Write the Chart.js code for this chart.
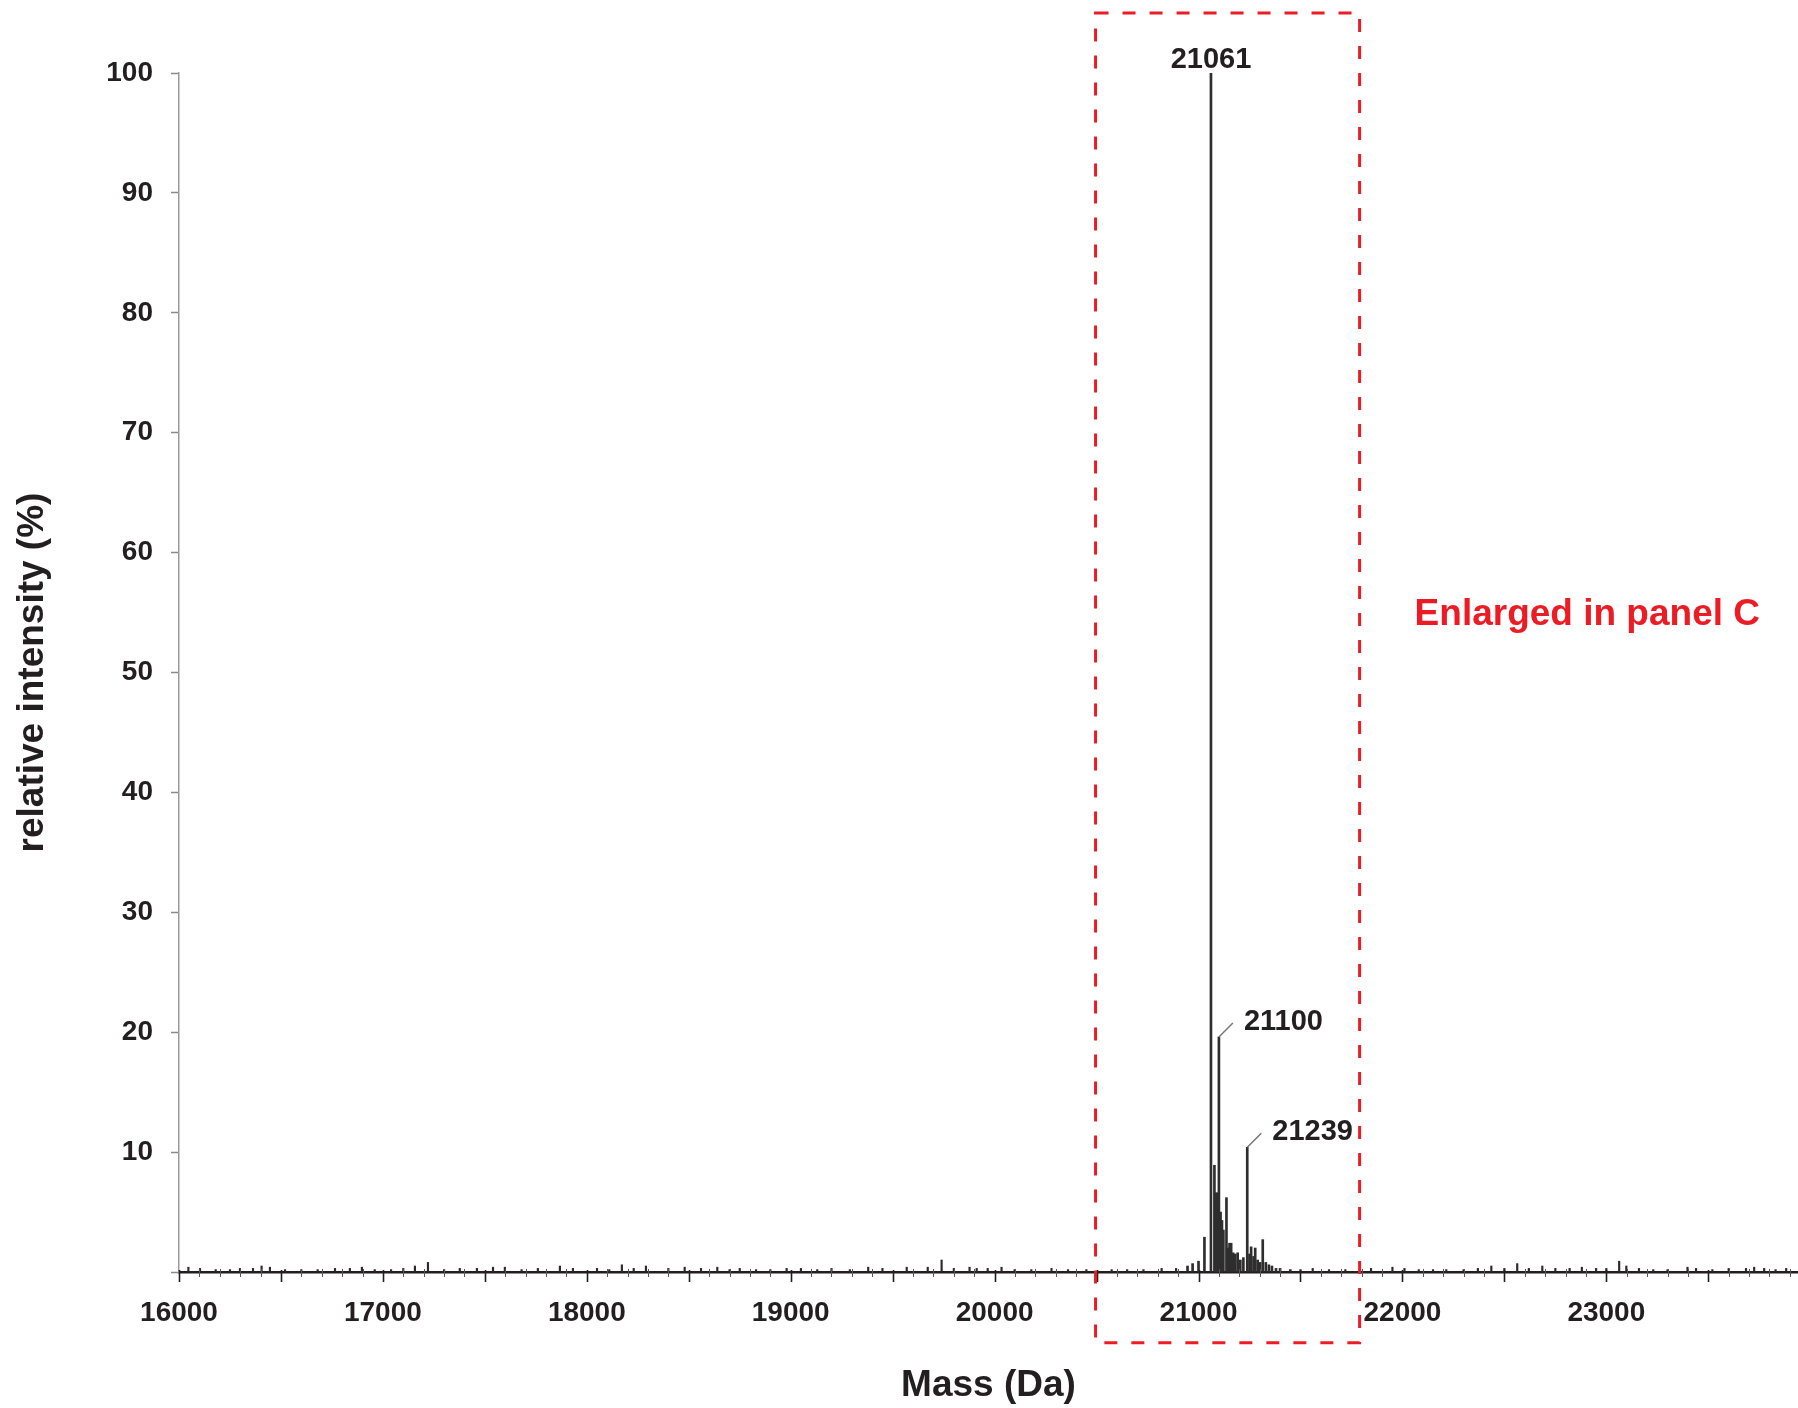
<!DOCTYPE html>
<html>
<head>
<meta charset="utf-8">
<script src="https://cdn.jsdelivr.net/npm/chart.js@4.4.1/dist/chart.umd.min.js"></script>
<style>
  html, body { margin: 0; padding: 0; background: #fff; }
  #wrap { position: relative; width: 1798px; height: 1408px; }
</style>
</head>
<body>
<div id="wrap"><canvas id="ms-chart"></canvas></div>
<script>
const FONT = "'Liberation Sans', Arial, Helvetica, sans-serif";
const INK = '#231f20';
const RED = '#ed1c24';

// main cluster of the deconvoluted spectrum (Da, % intensity)
const peakMass   = [20946, 20971, 21000, 21029, 21061, 21078, 21085, 21090, 21095, 21100,
                    21108, 21115, 21122, 21137, 21145, 21152, 21160, 21170, 21180, 21192,
                    21205, 21220, 21239, 21250, 21258, 21270, 21278, 21290, 21302, 21315,
                    21330, 21345, 21360, 21380, 21400, 21450];
const peakHeight = [0.5, 0.7, 0.9, 2.9, 100, 8.9, 6.6, 6.6, 6.0, 19.6,
                    5.0, 4.3, 3.5, 6.2, 2.0, 2.4, 2.4, 1.6, 1.5, 1.6,
                    1.0, 1.2, 10.4, 1.5, 2.1, 1.3, 2.0, 1.0, 0.8, 2.7,
                    0.8, 0.6, 0.5, 0.3, 0.3, 0.2];

// baseline noise spikes
const noiseMass   = [16046, 16103, 16180, 16250, 16299, 16363, 16405, 16446, 16520, 16600,
                     16680, 16765, 16838, 16897, 16960, 17040, 17100, 17157, 17221, 17300,
                     17377, 17461, 17540, 17598, 17680, 17760, 17868, 17932, 18050, 18110,
                     18172, 18230, 18290, 18400, 18480, 18560, 18640, 18700, 18750, 18830,
                     18900, 18980, 19050, 19130, 19200, 19290, 19380, 19450, 19569, 19672,
                     19740, 19800, 19877, 19912, 19966, 20034, 20098, 20180, 20279, 20360,
                     20450, 20574, 20650, 20730, 20819, 20890, 21500, 21560, 21640, 21720,
                     21846, 21951, 22010, 22080, 22150, 22215, 22300, 22370, 22436, 22500,
                     22563, 22620, 22686, 22750, 22820, 22880, 22950, 23000, 23063, 23098,
                     23160, 23230, 23300, 23398, 23440, 23520, 23600, 23685, 23725, 23774,
                     23830, 23882];
const noiseHeight = [0.4, 0.3, 0.2, 0.2, 0.3, 0.3, 0.5, 0.4, 0.2, 0.2,
                     0.2, 0.3, 0.3, 0.4, 0.2, 0.2, 0.3, 0.5, 0.8, 0.2,
                     0.3, 0.3, 0.4, 0.4, 0.2, 0.3, 0.5, 0.3, 0.3, 0.2,
                     0.6, 0.3, 0.5, 0.3, 0.4, 0.3, 0.4, 0.2, 0.3, 0.2,
                     0.2, 0.3, 0.3, 0.2, 0.3, 0.2, 0.4, 0.3, 0.4, 0.4,
                     1.0, 0.3, 0.4, 0.3, 0.3, 0.4, 0.2, 0.2, 0.3, 0.2,
                     0.2, 0.2, 0.2, 0.2, 0.3, 0.3, 0.2, 0.3, 0.2, 0.2,
                     0.3, 0.4, 0.3, 0.2, 0.2, 0.2, 0.2, 0.3, 0.5, 0.3,
                     0.7, 0.3, 0.5, 0.3, 0.3, 0.4, 0.3, 0.3, 0.9, 0.5,
                     0.3, 0.2, 0.2, 0.4, 0.3, 0.2, 0.3, 0.3, 0.4, 0.3,
                     0.2, 0.3];

// labelled peaks
const labelMass = [21061, 21100, 21239];
const labelText = ['21061', '21100', '21239'];

// axes
const xRange = [16000, 23940];
const yRange = [0, 100];

// dashed region, enlarged in panel C (Da, %)
const boxMass = [20495, 21790];
const boxIntensity = [105, -5.9];
const boxNote = 'Enlarged in panel C';

const toPoints = (ms, hs) => ms.map((m, i) => ({ x: m, y: hs[i] }));

const annotate = {
  id: 'annotate',
  afterDatasetsDraw(chart) {
    const { ctx, scales: { x, y } } = chart;
    const base = y.getPixelForValue(0);
    ctx.save();

    // x ticks: long every 500, short every 100
    for (let m = xRange[0]; m <= xRange[1]; m += 100) {
      const px = Math.round(x.getPixelForValue(m)) + 0.5;
      const major = m % 500 === 0;
      ctx.beginPath();
      ctx.strokeStyle = major ? INK : '#555';
      ctx.lineWidth = major ? 1.6 : 1;
      ctx.moveTo(px, base - (major ? 2 : 3));
      ctx.lineTo(px, base + (major ? 10 : 5));
      ctx.stroke();
    }

    // peak labels
    ctx.fillStyle = INK;
    ctx.font = 'bold 29px ' + FONT;
    ctx.textBaseline = 'alphabetic';
    labelMass.forEach((m, i) => {
      const h = peakHeight[peakMass.indexOf(m)];
      const px = x.getPixelForValue(m);
      const py = y.getPixelForValue(h);
      if (h >= 100) {
        ctx.textAlign = 'center';
        ctx.fillText(labelText[i], px, py - 5);
      } else {
        ctx.beginPath();
        ctx.strokeStyle = '#777';
        ctx.lineWidth = 1.5;
        ctx.moveTo(px, py);
        ctx.lineTo(px + 14, py - 14);
        ctx.stroke();
        ctx.textAlign = 'left';
        ctx.fillText(labelText[i], px + 25, py - 7);
      }
    });

    // dashed box
    const bx0 = x.getPixelForValue(boxMass[0]);
    const bx1 = x.getPixelForValue(boxMass[1]);
    const by0 = y.getPixelForValue(boxIntensity[0]);
    const by1 = y.getPixelForValue(boxIntensity[1]);
    ctx.beginPath();
    ctx.setLineDash([13, 14]);
    ctx.strokeStyle = RED;
    ctx.lineWidth = 3;
    ctx.strokeRect(bx0, by0, bx1 - bx0, by1 - by0);
    ctx.setLineDash([]);

    ctx.fillStyle = RED;
    ctx.font = 'bold 37px ' + FONT;
    ctx.textAlign = 'left';
    ctx.fillText(boxNote, bx1 + 55, y.getPixelForValue(54));

    ctx.restore();
  }
};

new Chart(document.getElementById('ms-chart'), {
  type: 'bar',
  data: {
    datasets: [
      {
        label: 'noise',
        data: toPoints(noiseMass, noiseHeight),
        backgroundColor: '#2a2a2a',
        barThickness: 1.5
      },
      {
        label: 'spectrum',
        data: toPoints(peakMass, peakHeight),
        backgroundColor: '#2e2e2e',
        barThickness: 2
      }
    ]
  },
  options: {
    responsive: true,
    maintainAspectRatio: false,
    animation: false,
    layout: { padding: { top: 73, right: 0, left: 0, bottom: 0 } },
    datasets: { bar: { grouped: false } },
    plugins: {
      legend: { display: false },
      tooltip: { enabled: false }
    },
    scales: {
      x: {
        type: 'linear',
        offset: false,
        min: xRange[0],
        max: xRange[1],
        afterFit: (s) => { s.height = 136; s.paddingRight = 0; s.paddingLeft = 0; },
        grid: { drawOnChartArea: false, drawTicks: false },
        border: { display: true, color: INK, width: 2.5 },
        ticks: {
          stepSize: 100,
          autoSkip: false,
          maxRotation: 0,
          padding: 24,
          color: INK,
          font: { family: FONT, size: 28, weight: 'bold' },
          callback: (v) => (v % 1000 === 0 ? String(v) : '')
        },
        title: {
          display: true,
          text: 'Mass (Da)',
          color: INK,
          font: { family: FONT, size: 37, weight: 'bold' },
          padding: { top: 0, bottom: 0 }
        }
      },
      y: {
        min: yRange[0],
        max: yRange[1],
        afterFit: (s) => { s.width = 179; },
        grid: { drawOnChartArea: false, tickLength: 8, tickColor: '#8a8a8a', tickWidth: 1.5 },
        border: { display: true, color: '#9a9a9a', width: 1.5 },
        ticks: {
          stepSize: 10,
          padding: 18,
          color: INK,
          font: { family: FONT, size: 28, weight: 'bold' },
          callback: (v) => (v === 0 ? '' : String(v))
        },
        title: {
          display: true,
          text: 'relative intensity (%)',
          color: INK,
          font: { family: FONT, size: 37, weight: 'bold' },
          padding: { top: 11, bottom: 0 }
        }
      }
    }
  },
  plugins: [annotate]
});
</script>
</body>
</html>
